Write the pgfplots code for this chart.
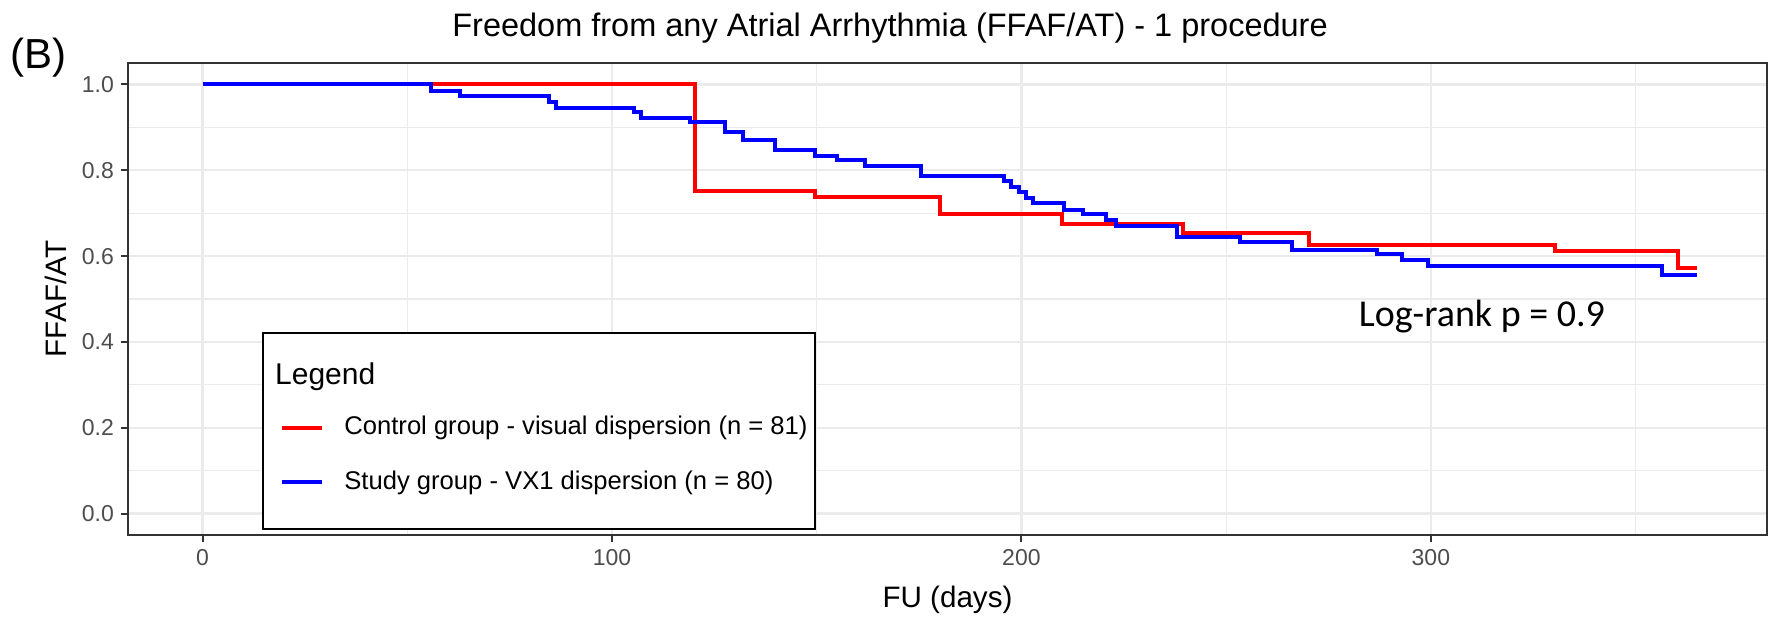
\documentclass[border=0pt]{standalone}
\usepackage{fontspec}
\setmainfont{Liberation Sans}
\newfontfamily\carlito{Carlito}
\usepackage{pgfplots}
\usepackage{pgfplotstable}
\pgfplotsset{compat=1.18}

\definecolor{gridgray}{HTML}{EBEBEB}
\definecolor{framegray}{HTML}{333333}
\definecolor{ticktext}{HTML}{4D4D4D}
\definecolor{kmred}{HTML}{FF0000}
\definecolor{kmblue}{HTML}{0000FF}

% Kaplan-Meier steps (days, survival)
\pgfplotstableread{
days surv
0     1
120.2 0.752
149.7 0.737
180   0.699
210   0.674
239.5 0.653
270.2 0.625
330.2 0.611
360.4 0.572
365   0.572
}\controltab

\pgfplotstableread{
days surv
0     1
55.7  0.984
63    0.974
84.7  0.959
86.4  0.945
105.5 0.935
107   0.921
119   0.912
127.6 0.889
132   0.871
139.8 0.848
149.6 0.834
155   0.824
161.8 0.810
175.4 0.786
195.8 0.774
197.5 0.761
199.3 0.749
201   0.736
202.8 0.723
210.5 0.707
215   0.698
220.7 0.683
223   0.669
237.9 0.645
253.4 0.632
266   0.614
286.9 0.606
293   0.592
299.2 0.577
356.4 0.557
365   0.557
}\studytab

\begin{document}
\begin{tikzpicture}
\useasboundingbox (0,0) rectangle (890pt,310.5pt);
\begin{axis}[
    at={(64pt,43pt)}, anchor=south west,
    scale only axis, width=819.5pt, height=236pt,
    xmin=-18.2, xmax=382.1, ymin=-0.05, ymax=1.05,
    xtick={0,100,200,300},
    ytick={0,0.2,0.4,0.6,0.8,1},
    minor xtick={50,150,250,350},
    minor ytick={0.1,0.3,0.5,0.7,0.9},
    grid=both,
    major grid style={gridgray, line width=1.1pt},
    minor grid style={gridgray, line width=0.6pt},
    minor tick length=0pt,
    tick align=outside, tick pos=left,
    major tick length=3.5pt,
    major tick style={framegray, line width=1pt},
    axis line style={framegray, line width=1pt},
    /pgf/number format/assume math mode=true,
    yticklabel style={/pgf/number format/.cd, fixed, fixed zerofill, precision=1},
    ticklabel style={font=\fontsize{11.5}{13}\selectfont, text=ticktext},
    xlabel={FU (days)}, ylabel={FFAF/AT},
    label style={font=\fontsize{14.8}{17}\selectfont},
    xlabel style={at={(axis description cs:0.5,-0.153)}, anchor=base},
    ylabel style={at={(axis description cs:-0.0374,0.5)}, anchor=base},
    legend cell align=left,
    legend image code/.code={\draw[#1] (0pt,0pt) -- (20pt,0pt);},
    legend style={at={(0.09274,0.2559)}, anchor=north west, draw=none, fill=none,
        inner sep=0pt, row sep=14.4pt, font=\fontsize{12.8}{15}\selectfont,
        nodes={inner sep=0pt, text height=10pt, text depth=3pt},
        /tikz/every odd column/.append style={column sep=10pt}},
]
\addplot[kmred, line width=2pt, const plot] table[x=days, y=surv] {\controltab};
\addlegendentry{Control group - visual dispersion (n = 81)}
\addplot[kmblue, line width=2pt, const plot] table[x=days, y=surv] {\studytab};
\addlegendentry{Study group - VX1 dispersion (n = 80)}

\draw[black, fill=white, line width=1.1pt]
    (rel axis cs:0.08237,0.01271) rectangle (rel axis cs:0.41916,0.42797);
\node[anchor=base west, inner sep=0pt, font=\fontsize{15}{18}\selectfont]
    at (rel axis cs:0.08957,0.31928) {Legend};
\node[anchor=base west, inner sep=0pt, font=\carlito\fontsize{19}{22}\selectfont]
    at (axis cs:282.3,0.4364) {Log-rank p = 0.9};
\end{axis}
\node[anchor=base, font=\fontsize{16.25}{19}\selectfont]
    at (445pt,292pt) {Freedom from any Atrial Arrhythmia (FFAF/AT) - 1 procedure};
\node[anchor=base west, inner sep=0pt, font=\fontsize{21}{24}\selectfont]
    at (5pt,276pt) {(B)};
\end{tikzpicture}
\end{document}
